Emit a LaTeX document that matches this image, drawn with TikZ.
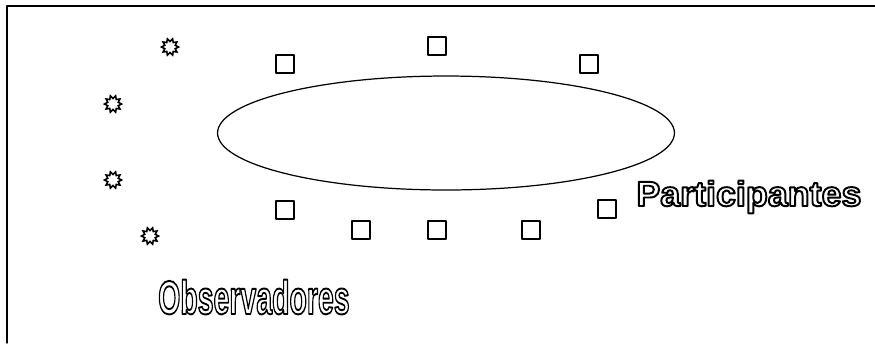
\documentclass[tikz,border=0pt]{standalone}
\usepackage{fontspec}
\setmainfont{Liberation Sans}
\usetikzlibrary{shapes.geometric}
\newcommand{\hollow}[1]{\special{pdf:literal direct 1 Tr 1.1 w}#1\special{pdf:literal direct 0 Tr}}

\begin{document}
\begin{tikzpicture}[x=0.02cm,y=-0.02cm,line cap=round,line join=round]
  \tikzset{
    seat/.style={draw,line width=0.8pt,minimum size=0.36cm,inner sep=0pt},
    table/.style={draw,ellipse,line width=0.7pt,minimum width=9.14cm,minimum height=2.28cm,inner sep=0pt},
    label/.style={font=\bfseries,inner sep=0pt,transform shape},
    burst/.pic={\draw[line width=0.9pt,line join=miter] (0:8.5) \foreach \i in {1,...,19} {-- (\i*18:{mod(\i,2)==0 ? 8.5 : 5.5})} -- cycle;}
  }
  \useasboundingbox (0,0) rectangle (875,343);
  \draw[line width=0.8pt] (7,343) |- (875,6);
  % the table
  \node[table] (mesa) at (446,133) {};
  % participants round the table
  \node[seat] (p1) at (285,64) {};
  \node[seat] (p2) at (437,46) {};
  \node[seat] (p3) at (589,64) {};
  \node[seat] (p4) at (285,210) {};
  \node[seat] (p5) at (361,230) {};
  \node[seat] (p6) at (437,230) {};
  \node[seat] (p7) at (531,230) {};
  \node[seat] (p8) at (607,209) {};
  % observers
  \pic at (170,47) {burst};
  \pic at (113,104) {burst};
  \pic at (113,180) {burst};
  \pic at (150,236) {burst};
  \node[label,anchor=base west,xscale=1.02,font=\fontsize{20}{23}\bfseries] (part) at (636,206) {\hollow{Participantes}};
  \node[label,anchor=base west,xscale=0.6,font=\fontsize{27}{31}\bfseries] (obs) at (158,314) {\hollow{Observadores}};
\end{tikzpicture}
\end{document}
